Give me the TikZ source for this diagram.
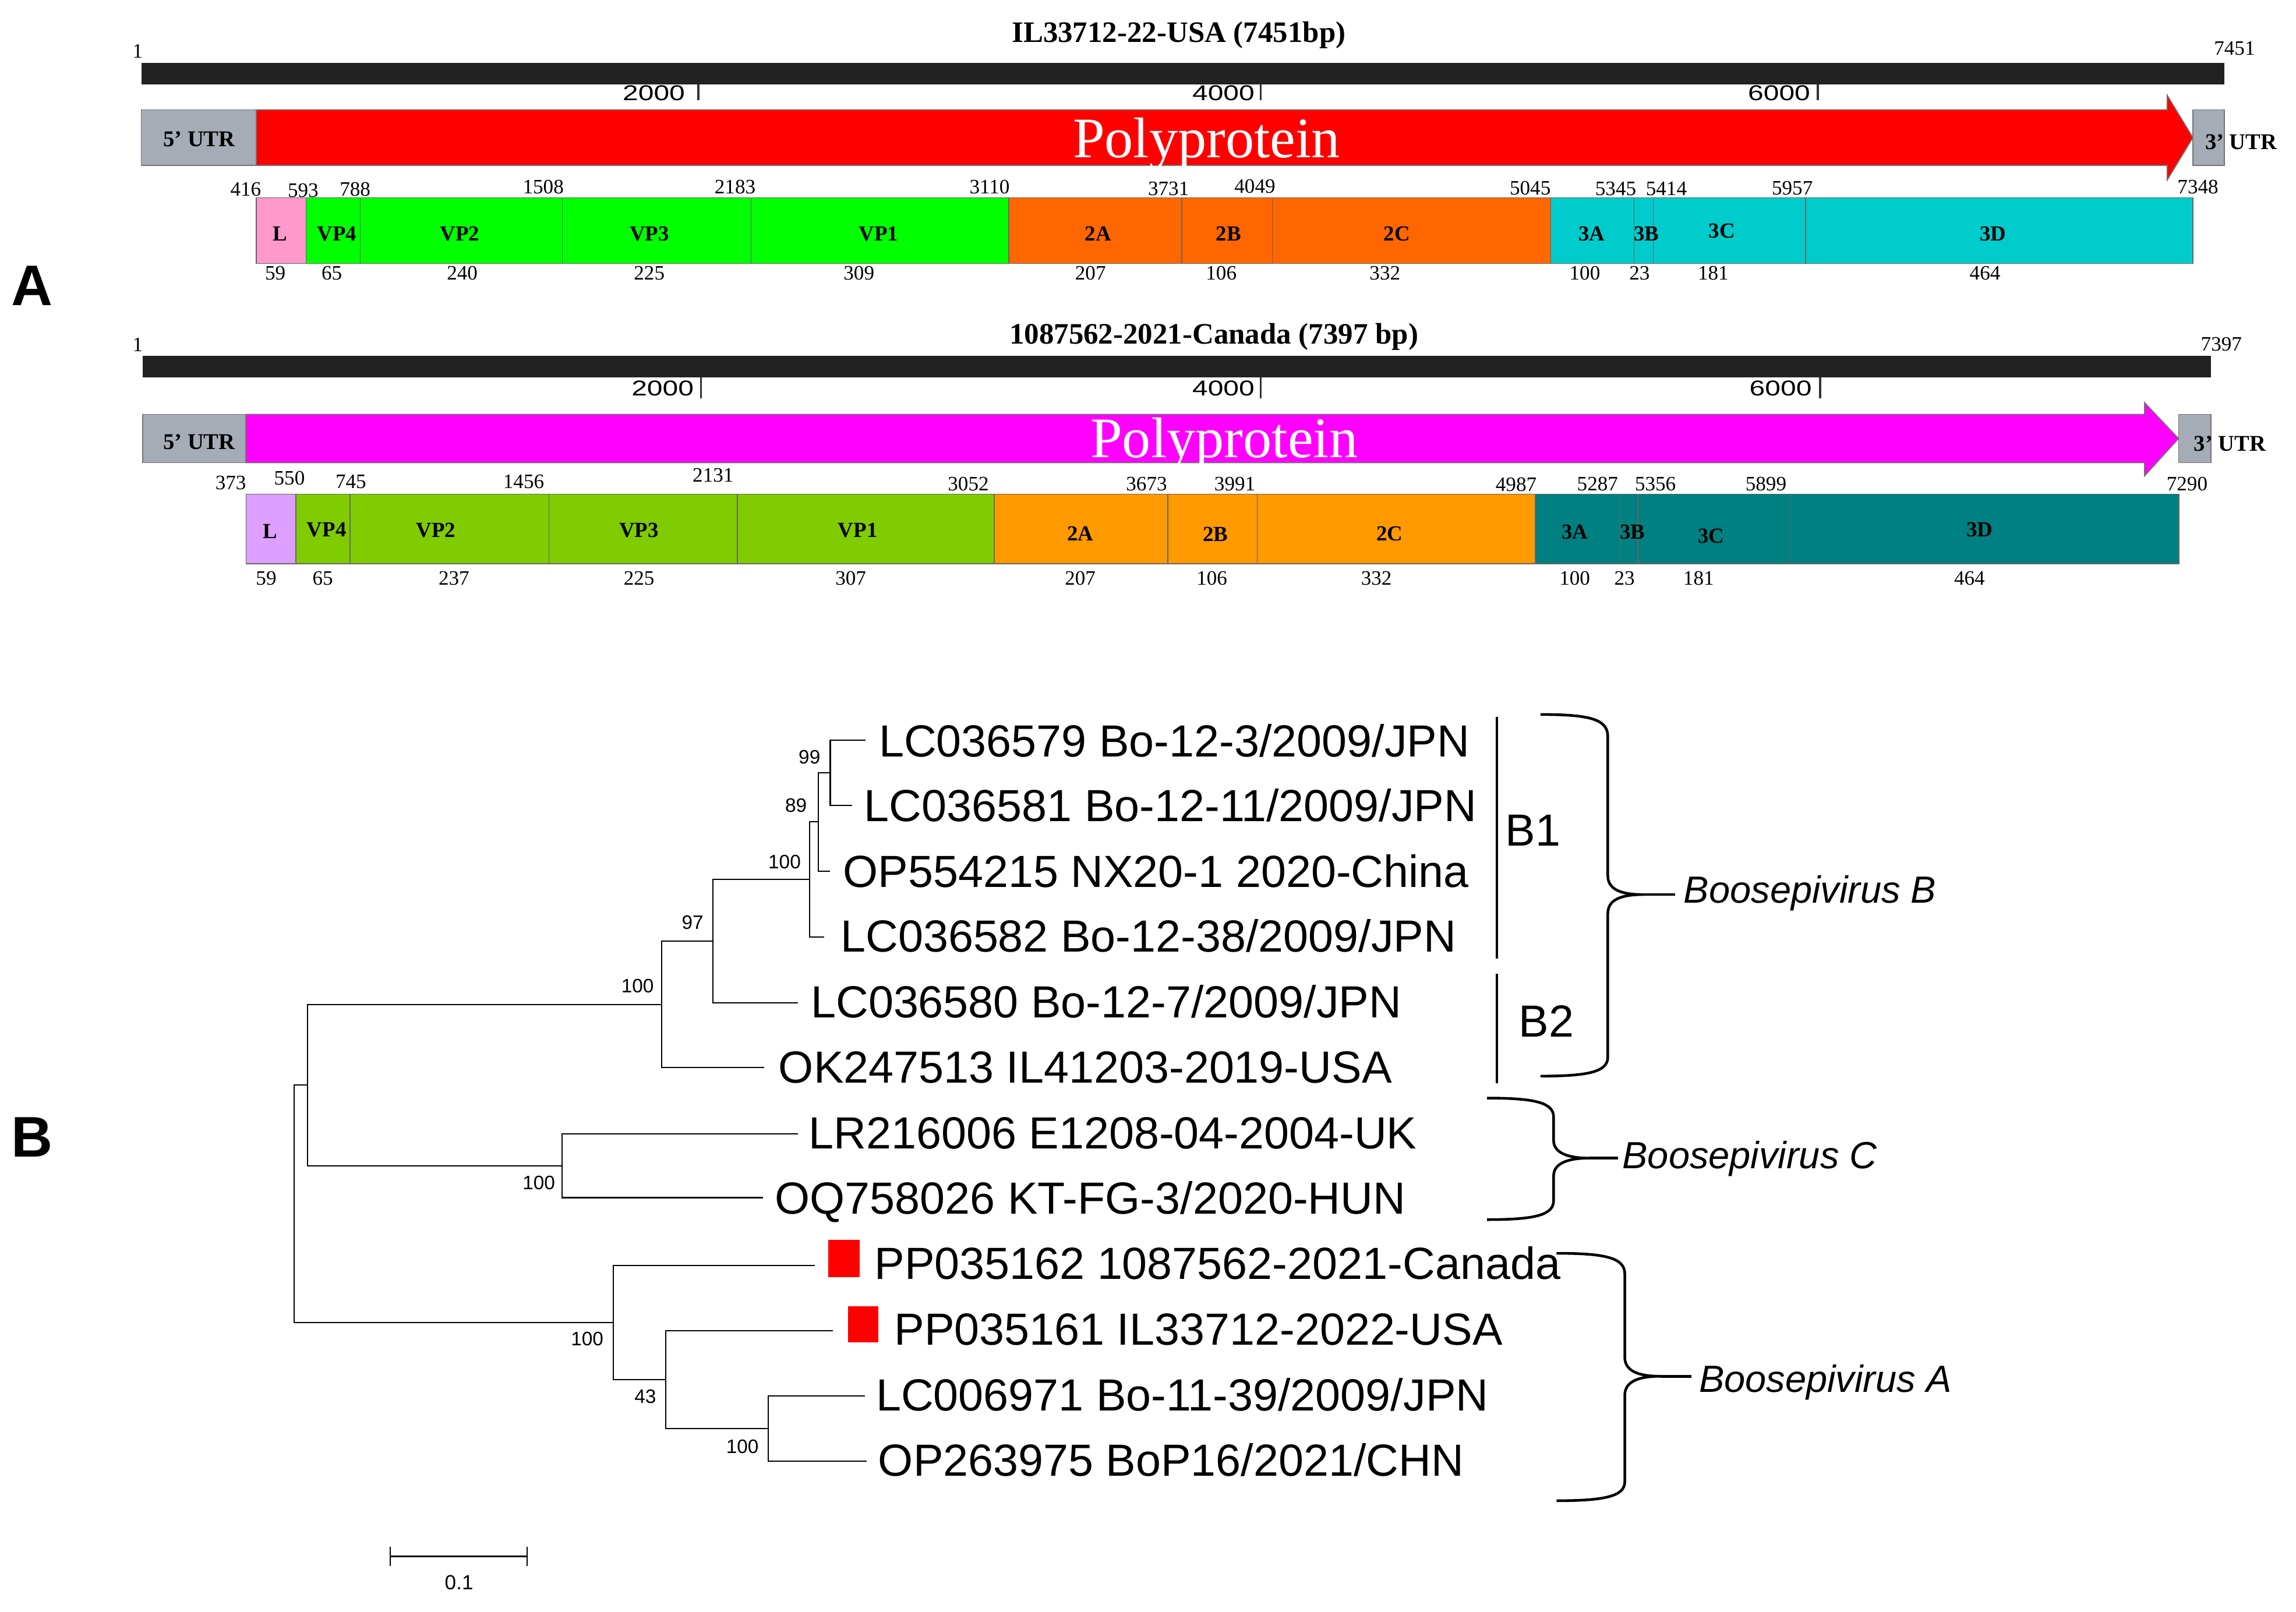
\documentclass[tikz,border=0pt]{standalone}
\usepackage{fontspec}
\setmainfont{Liberation Serif}
\setsansfont{Liberation Sans}
\usepackage{graphicx}

\definecolor{utrgray}{RGB}{166,172,181}
\definecolor{barblack}{RGB}{34,34,34}
\definecolor{polyred}{RGB}{255,0,0}
\definecolor{polymag}{RGB}{255,0,255}
\definecolor{lpinkA}{RGB}{255,153,204}
\definecolor{vpA}{RGB}{0,255,0}
\definecolor{ptwoA}{RGB}{255,102,0}
\definecolor{pthreeA}{RGB}{0,204,204}
\definecolor{lpinkB}{RGB}{221,160,255}
\definecolor{vpB}{RGB}{128,204,0}
\definecolor{ptwoB}{RGB}{255,153,0}
\definecolor{pthreeB}{RGB}{0,128,128}

\begin{document}
\begin{tikzpicture}[x=0.02514cm, y=-0.02514cm,
  seg/.style={draw=black!60, line width=0.4pt},
  box/.style={draw=black!55, line width=0.5pt},
  seglab/.style={font=\fontsize{10.5}{12}\selectfont\bfseries, inner sep=0pt},
  posnum/.style={font=\fontsize{10}{12}\selectfont, inner sep=0pt},
  rulenum/.style={font=\sffamily\fontsize{10.5}{12}\selectfont, inner sep=0pt, anchor=east},
  rtick/.style={line width=1pt, draw=black!80},
  maptitle/.style={font=\fontsize{14.5}{16}\selectfont\bfseries, inner sep=0pt},
  utr/.style={font=\fontsize{11}{13}\selectfont\bfseries, inner sep=0pt},
  poly/.style={font=\fontsize{28}{30}\selectfont, text=white, inner sep=0pt, anchor=base},
  panel/.style={font=\sffamily\bfseries\fontsize{28}{30}\selectfont, inner sep=0pt},
  leaf/.style={font=\sffamily\fontsize{22}{24}\selectfont, inner sep=0pt, anchor=base west},
  clade/.style={font=\sffamily\fontsize{22}{24}\selectfont, inner sep=0pt},
  boot/.style={font=\sffamily\fontsize{9.5}{11}\selectfont, inner sep=0pt},
  branch/.style={line width=0.6pt},
  brace/.style={line width=1.3pt},
  genus/.style={font=\sffamily\itshape\fontsize{18.5}{20}\selectfont, inner sep=0pt, anchor=base west}]

  \useasboundingbox (0,0) rectangle (1568,1101);

  %% panel labels
  \node[panel] (panA) at (22,195) {A};
  \node[panel] (panB) at (22,776.5) {B};

  %% genome IL33712-22-USA
  \node[maptitle] (usaTitle) at (805,24) {IL33712-22-USA (7451bp)};
  \node[posnum] (usaFirst) at (94,35) {1};
  \node[posnum] (usaLast) at (1526,33) {7451};
  \fill[barblack] (96.5,43) rectangle (1519,57.5);
  \draw[rtick] (477,57.5) -- (477,68.6);
  \draw[rtick] (861,57.5) -- (861,68.6);
  \draw[rtick] (1241.5,57.5) -- (1241.5,68.6);
  \node[rulenum] (usaT2) at (468,63.5) {\scalebox{1.3}[1]{2000}};
  \node[rulenum] (usaT4) at (857,63.5) {\scalebox{1.3}[1]{4000}};
  \node[rulenum] (usaT6) at (1236.5,63.5) {\scalebox{1.3}[1]{6000}};

  \filldraw[box, fill=utrgray] (96.5,75) rectangle (175,113);
  \filldraw[box, fill=polyred] (175,75) -- (1480,75) -- (1480,65) -- (1497.6,94) -- (1480,123) -- (1480,113) -- (175,113) -- cycle;
  \filldraw[box, fill=utrgray] (1497.6,75) rectangle (1519,113);
  \node[utr] (usaUTRa) at (136,95) {5' UTR};
  \node[utr] (usaUTRb) at (1530.5,97) {3' UTR};
  \node[poly] (usaPoly) at (824,107.5) {Polyprotein};

  %% segments IL33712
  \filldraw[seg, fill=lpinkA] (175,135) rectangle (209,180);
  \filldraw[seg, fill=vpA] (209,135) rectangle (246,180);
  \filldraw[seg, fill=vpA] (246,135) rectangle (384,180);
  \filldraw[seg, fill=vpA] (384,135) rectangle (513,180);
  \filldraw[seg, fill=vpA] (513,135) rectangle (689,180);
  \filldraw[seg, fill=ptwoA] (689,135) rectangle (807,180);
  \filldraw[seg, fill=ptwoA] (807,135) rectangle (869,180);
  \filldraw[seg, fill=ptwoA] (869,135) rectangle (1059,180);
  \filldraw[seg, fill=pthreeA] (1059,135) rectangle (1116,180);
  \filldraw[seg, fill=pthreeA] (1116,135) rectangle (1129,180);
  \filldraw[seg, fill=pthreeA] (1129,135) rectangle (1233,180);
  \filldraw[seg, fill=pthreeA] (1233,135) rectangle (1497.6,180);

  \node[seglab] (uL) at (191.3,159.7) {L};
  \node[seglab] (uVPfour) at (230,159.7) {VP4};
  \node[seglab] (uVPtwo) at (314,159.7) {VP2};
  \node[seglab] (uVPthree) at (443.5,159.7) {VP3};
  \node[seglab] (uVPone) at (600,159.7) {VP1};
  \node[seglab] (uTwoA) at (750,159.7) {2A};
  \node[seglab] (uTwoB) at (839,159.7) {2B};
  \node[seglab] (uTwoC) at (954,159.7) {2C};
  \node[seglab] (uThreeA) at (1087,159.7) {3A};
  \node[seglab] (uThreeB) at (1124.5,159.7) {3B};
  \node[seglab] (uThreeC) at (1176,157.7) {3C};
  \node[seglab] (uThreeD) at (1361,159.7) {3D};

  \node[posnum] (uP1) at (167.8,129.3) {416};
  \node[posnum] (uP2) at (207,130) {593};
  \node[posnum] (uP3) at (242.5,129.3) {788};
  \node[posnum] (uP4) at (371,127.7) {1508};
  \node[posnum] (uP5) at (502,127.7) {2183};
  \node[posnum] (uP6) at (675.8,127.7) {3110};
  \node[posnum] (uP7) at (798,128.8) {3731};
  \node[posnum] (uP8) at (857,127.2) {4049};
  \node[posnum] (uP9) at (1045,128.3) {5045};
  \node[posnum] (uP10) at (1103.4,128.8) {5345};
  \node[posnum] (uP11) at (1138,128.8) {5414};
  \node[posnum] (uP12) at (1224,128.3) {5957};
  \node[posnum] (uP13) at (1501,127.7) {7348};

  \node[posnum] (uS1) at (188,186.7) {59};
  \node[posnum] (uS2) at (226.6,186.7) {65};
  \node[posnum] (uS3) at (315.7,186.7) {240};
  \node[posnum] (uS4) at (443.4,186.7) {225};
  \node[posnum] (uS5) at (586.6,186.7) {309};
  \node[posnum] (uS6) at (744.7,186.7) {207};
  \node[posnum] (uS7) at (834,186.7) {106};
  \node[posnum] (uS8) at (945.8,186.7) {332};
  \node[posnum] (uS9) at (1082.3,186.7) {100};
  \node[posnum] (uS10) at (1119.7,186.7) {23};
  \node[posnum] (uS11) at (1170,186.7) {181};
  \node[posnum] (uS12) at (1355.6,186.7) {464};

  %% genome 1087562-2021-Canada
  \node[maptitle] (canTitle) at (829,230) {1087562-2021-Canada (7397 bp)};
  \node[posnum] (canFirst) at (94,235.5) {1};
  \node[posnum] (canLast) at (1517,235) {7397};
  \fill[barblack] (97.4,243) rectangle (1510,257.6);
  \draw[rtick] (478.8,257.6) -- (478.8,272);
  \draw[rtick] (861,257.6) -- (861,272);
  \draw[rtick] (1243,257.6) -- (1243,272);
  \node[rulenum] (canT2) at (474,265.3) {\scalebox{1.3}[1]{2000}};
  \node[rulenum] (canT4) at (857,265.3) {\scalebox{1.3}[1]{4000}};
  \node[rulenum] (canT6) at (1237.5,265.3) {\scalebox{1.3}[1]{6000}};

  \filldraw[box, fill=utrgray] (97.4,283) rectangle (168,316);
  \filldraw[box, fill=polymag] (168,283) -- (1464.6,283) -- (1464.6,275) -- (1487.8,299.5) -- (1464.6,325) -- (1464.6,316) -- (168,316) -- cycle;
  \filldraw[box, fill=utrgray] (1487.8,283) rectangle (1510,316);
  \node[utr] (canUTRa) at (136,302) {5' UTR};
  \node[utr] (canUTRb) at (1522.8,303) {3' UTR};
  \node[poly] (canPoly) at (836,312.3) {Polyprotein};

  %% segments 1087562
  \filldraw[seg, fill=lpinkB] (168,337.5) rectangle (202,385);
  \filldraw[seg, fill=vpB] (202,337.5) rectangle (239,385);
  \filldraw[seg, fill=vpB] (239,337.5) rectangle (375,385);
  \filldraw[seg, fill=vpB] (375,337.5) rectangle (503.5,385);
  \filldraw[seg, fill=vpB] (503.5,337.5) rectangle (679,385);
  \filldraw[seg, fill=ptwoB] (679,337.5) rectangle (797.5,385);
  \filldraw[seg, fill=ptwoB] (797.5,337.5) rectangle (858.5,385);
  \filldraw[seg, fill=ptwoB] (858.5,337.5) rectangle (1048.5,385);
  \filldraw[seg, fill=pthreeB] (1048.5,337.5) rectangle (1106.3,385);
  \filldraw[seg, fill=pthreeB] (1106.3,337.5) rectangle (1118.5,385);
  \filldraw[seg, fill=pthreeB] (1118.5,337.5) rectangle (1222.5,385);
  \filldraw[seg, fill=pthreeB] (1222.5,337.5) rectangle (1488,385);

  \node[seglab] (cL) at (184.6,363) {L};
  \node[seglab] (cVPfour) at (223,362) {VP4};
  \node[seglab] (cVPtwo) at (297.6,362) {VP2};
  \node[seglab] (cVPthree) at (436.4,362) {VP3};
  \node[seglab] (cVPone) at (585.8,362) {VP1};
  \node[seglab] (cTwoA) at (737.7,364.6) {2A};
  \node[seglab] (cTwoB) at (830,364.8) {2B};
  \node[seglab] (cTwoC) at (949,364.6) {2C};
  \node[seglab] (cThreeA) at (1075.4,363.3) {3A};
  \node[seglab] (cThreeB) at (1114.8,363.3) {3B};
  \node[seglab] (cThreeC) at (1168.5,366) {3C};
  \node[seglab] (cThreeD) at (1352,361.7) {3D};

  \node[posnum] (cP1) at (157.6,329.8) {373};
  \node[posnum] (cP2) at (197.7,326.4) {550};
  \node[posnum] (cP3) at (239.6,329) {745};
  \node[posnum] (cP4) at (357.6,329) {1456};
  \node[posnum] (cP5) at (487,324.7) {2131};
  \node[posnum] (cP6) at (661.3,330.5) {3052};
  \node[posnum] (cP7) at (783,330.5) {3673};
  \node[posnum] (cP8) at (843.3,330.5) {3991};
  \node[posnum] (cP9) at (1035.4,331) {4987};
  \node[posnum] (cP10) at (1091,330.5) {5287};
  \node[posnum] (cP11) at (1130.5,330.5) {5356};
  \node[posnum] (cP12) at (1206,330.5) {5899};
  \node[posnum] (cP13) at (1493.6,330.5) {7290};

  \node[posnum] (cS1) at (181.8,395) {59};
  \node[posnum] (cS2) at (220.4,395) {65};
  \node[posnum] (cS3) at (310,395) {237};
  \node[posnum] (cS4) at (436.4,395) {225};
  \node[posnum] (cS5) at (581,395) {307};
  \node[posnum] (cS6) at (737.7,395) {207};
  \node[posnum] (cS7) at (827.6,395) {106};
  \node[posnum] (cS8) at (940,395) {332};
  \node[posnum] (cS9) at (1075.4,395) {100};
  \node[posnum] (cS10) at (1109.4,395) {23};
  \node[posnum] (cS11) at (1160,395) {181};
  \node[posnum] (cS12) at (1345,395) {464};

  %% tree: leaf tips
  \coordinate (t1) at (591,505.6);
  \coordinate (t2) at (582,550);
  \coordinate (t3) at (567,595);
  \coordinate (t4) at (563,640);
  \coordinate (t5) at (545,685);
  \coordinate (t6) at (522,729);
  \coordinate (t7) at (545,774.5);
  \coordinate (t8) at (521,818);
  \coordinate (t9) at (556.4,864.5);
  \coordinate (t10) at (569,909);
  \coordinate (t11) at (590.7,953.5);
  \coordinate (t12) at (592,998);

  %% tree: inner nodes
  \coordinate (n99) at (567,527.8);
  \coordinate (n89) at (559,561.4);
  \coordinate (n100a) at (553,600.7);
  \coordinate (n97) at (487,642.9);
  \coordinate (n100b) at (452,686);
  \coordinate (nC) at (384,796.3);
  \coordinate (nBC) at (210,741.1);
  \coordinate (n100c) at (524.5,975.8);
  \coordinate (n43) at (454.6,942.4);
  \coordinate (nA) at (419,903.4);
  \coordinate (root) at (201,822.2);

  \draw[branch] (n99) |- (t1);
  \draw[branch] (n99) |- (t2);
  \draw[branch] (n89) |- (n99);
  \draw[branch] (n89) |- (t3);
  \draw[branch] (n100a) |- (n89);
  \draw[branch] (n100a) |- (t4);
  \draw[branch] (n97) |- (n100a);
  \draw[branch] (n97) |- (t5);
  \draw[branch] (n100b) |- (n97);
  \draw[branch] (n100b) |- (t6);
  \draw[branch] (nC) |- (t7);
  \draw[branch] (nC) |- (t8);
  \draw[branch] (nBC) |- (n100b);
  \draw[branch] (nBC) |- (nC);
  \draw[branch] (n100c) |- (t11);
  \draw[branch] (n100c) |- (t12);
  \draw[branch] (n43) |- (t10);
  \draw[branch] (n43) |- (n100c);
  \draw[branch] (nA) |- (t9);
  \draw[branch] (nA) |- (n43);
  \draw[branch] (root) |- (nBC);
  \draw[branch] (root) |- (nA);

  %% tree: bootstrap values
  \node[boot] (bs99) at (552.8,517) {99};
  \node[boot] (bs89) at (543.6,550) {89};
  \node[boot] (bs100a) at (535.8,588.5) {100};
  \node[boot] (bs97) at (473,630) {97};
  \node[boot] (bs100b) at (435.4,673.5) {100};
  \node[boot] (bs100c) at (368,808) {100};
  \node[boot] (bs100d) at (401,914.5) {100};
  \node[boot] (bs43) at (440.7,954) {43};
  \node[boot] (bs100e) at (507,988) {100};

  %% tree: leaf labels
  \node[leaf] (lf1) at (600,516.8) {LC036579 Bo-12-3/2009/JPN};
  \node[leaf] (lf2) at (590,561.2) {LC036581 Bo-12-11/2009/JPN};
  \node[leaf] (lf3) at (575.5,605.8) {OP554215 NX20-1 2020-China};
  \node[leaf] (lf4) at (573.8,650.2) {LC036582 Bo-12-38/2009/JPN};
  \node[leaf] (lf5) at (553.5,695.2) {LC036580 Bo-12-7/2009/JPN};
  \node[leaf] (lf6) at (531.5,739.7) {OK247513 IL41203-2019-USA};
  \node[leaf] (lf7) at (552,784.7) {LR216006 E1208-04-2004-UK};
  \node[leaf] (lf8) at (529,829.2) {OQ758026 KT-FG-3/2020-HUN};
  \node[leaf] (lf9) at (597,873.7) {PP035162 1087562-2021-Canada};
  \node[leaf] (lf10) at (610.5,918.7) {PP035161 IL33712-2022-USA};
  \node[leaf] (lf11) at (598,963.7) {LC006971 Bo-11-39/2009/JPN};
  \node[leaf] (lf12) at (599.5,1008.2) {OP263975 BoP16/2021/CHN};

  %% new sequences
  \fill[polyred] (565.6,847) rectangle (587,872.4);
  \fill[polyred] (579,892) rectangle (600,917);

  %% subgroups
  \draw[line width=1.1pt] (1022.4,489.5) -- (1022.4,654.7);
  \draw[line width=1.1pt] (1022.4,665) -- (1022.4,740);
  \node[clade] (cladeB1) at (1047,567) {B1};
  \node[clade] (cladeB2) at (1056,697.3) {B2};

  %% species braces
  \coordinate (tipB) at (1122,611);
  \coordinate (endB) at (1144,611);
  \draw[brace] (1052,488) .. controls (1085,488) and (1098,491) .. (1098,503) -- (1098,598)
    .. controls (1098,607) and (1106,611) .. (tipB)
    .. controls (1106,611) and (1098,615) .. (1098,624) -- (1098,722)
    .. controls (1098,732) and (1085,735) .. (1052,735);
  \draw[brace] (tipB) -- (endB);
  \node[genus] (spB) at (1149.6,616.8) {Boosepivirus B};

  \coordinate (tipC) at (1085,791);
  \coordinate (endC) at (1105,791);
  \draw[brace] (1015.5,750) .. controls (1048,750) and (1061,753) .. (1061,763) -- (1061,779)
    .. controls (1061,787) and (1070,791) .. (tipC)
    .. controls (1070,791) and (1061,795) .. (1061,803) -- (1061,820)
    .. controls (1061,830) and (1048,833) .. (1015.5,833);
  \draw[brace] (tipC) -- (endC);
  \node[genus] (spC) at (1107.7,798) {Boosepivirus C};

  \coordinate (tipA) at (1134,940);
  \coordinate (endA) at (1155,940);
  \draw[brace] (1063,856) .. controls (1096,856) and (1109.6,859) .. (1109.6,870) -- (1109.6,927)
    .. controls (1109.6,936) and (1118,940) .. (tipA)
    .. controls (1118,940) and (1109.6,944) .. (1109.6,953) -- (1109.6,1012)
    .. controls (1109.6,1022) and (1096,1025) .. (1063,1025);
  \draw[brace] (tipA) -- (endA);
  \node[genus] (spA) at (1160,951) {Boosepivirus A};

  %% scale bar
  \coordinate (sbL) at (266.5,1063);
  \coordinate (sbR) at (360,1063);
  \draw[branch] (sbL) -- (sbR);
  \draw[branch] (266.5,1056.5) -- (266.5,1069.5);
  \draw[branch] (360,1056.5) -- (360,1069.5);
  \node[boot, font=\sffamily\fontsize{10}{12}\selectfont] (sbLab) at (313.5,1080.7) {0.1};

\end{tikzpicture}
\end{document}
